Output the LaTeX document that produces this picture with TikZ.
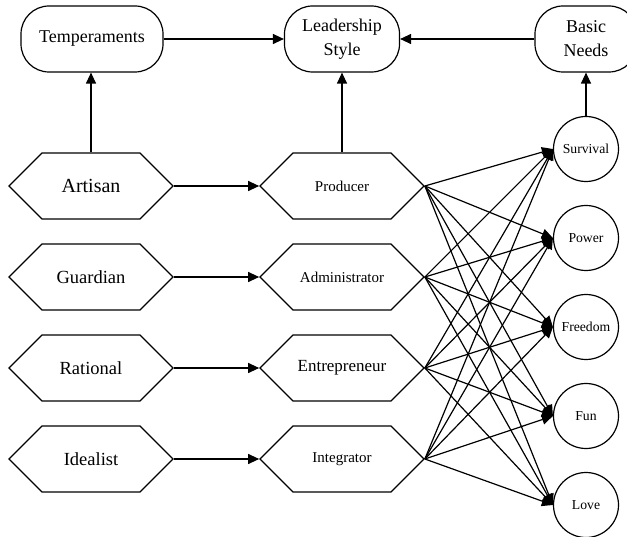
\documentclass[tikz,border=0pt]{standalone}
\usepackage{fontspec}
\setmainfont{Liberation Serif}
\usetikzlibrary{shapes.symbols,arrows.meta}
\begin{document}
\begin{tikzpicture}[x=1pt,y=-1pt,line width=1.2pt,
  topbox/.style={draw,rounded corners=28pt,minimum height=66pt,align=center,inner sep=0pt,font=\fontsize{18}{24}\selectfont},
  hexa/.style={draw,shape=signal,signal to=east and west,signal pointer angle=90,minimum width=164pt,minimum height=66pt,inner sep=0pt},
  leftfont/.style={font=\fontsize{18.5}{22}\selectfont},
  midfont/.style={font=\fontsize{15}{18}\selectfont},
  need/.style={draw,circle,minimum size=65pt,inner sep=0pt,font=\fontsize{13.7}{16}\selectfont},
  arr/.style={-{Triangle[length=11pt,width=10pt]}}]
\useasboundingbox (0,0) rectangle (627,537);
\clip (0,0) rectangle (627,537);
% top row
\node[topbox,minimum width=142pt] (temp) at (92,39) {Temperaments};
\node[topbox,minimum width=115pt] (lead) at (342,39) {Leadership\\Style};
\node[topbox,minimum width=102pt] (basic) at (586,39) {Basic\\Needs};
% left column
\node[hexa,font=\fontsize{20}{24}\selectfont] (art) at (91,186) {Artisan};
\node[hexa,leftfont] (gua) at (91,277) {Guardian};
\node[hexa,leftfont] (rat) at (91,368) {Rational};
\node[hexa,leftfont] (ide) at (91,459) {Idealist};
% middle column
\node[hexa,midfont] (prod) at (342,186) {Producer};
\node[hexa,midfont] (adm) at (342,277) {Administrator};
\node[hexa,font=\fontsize{17}{20}\selectfont] (ent) at (342,368) {Entrepreneur};
\node[hexa,midfont] (integ) at (342,459) {Integrator};
% needs
\node[need] (sur) at (586,149) {Survival};
\node[need] (pow) at (586,238) {Power};
\node[need] (fre) at (586,327) {Freedom};
\node[need] (fun) at (586,416) {Fun};
\node[need] (lov) at (586,505) {Love};
% connectors
\draw[arr] (temp.east) -- (lead.west);
\draw[arr] (basic.west) -- (lead.east);
\draw[arr] (art.north) -- (art.north |- temp.south);
\draw[arr] (prod.north) -- (prod.north |- lead.south);
\draw[arr] (sur.north) -- (sur.north |- basic.south);
\draw[arr] (art.east) -- (prod.west);
\draw[arr] (gua.east) -- (adm.west);
\draw[arr] (rat.east) -- (ent.west);
\draw[arr] (ide.east) -- (integ.west);
\foreach \m in {prod,adm,ent,integ}
  \foreach \n in {sur,pow,fre,fun,lov}
    \draw[arr] (\m.east) -- (\n.west);
\end{tikzpicture}
\end{document}
